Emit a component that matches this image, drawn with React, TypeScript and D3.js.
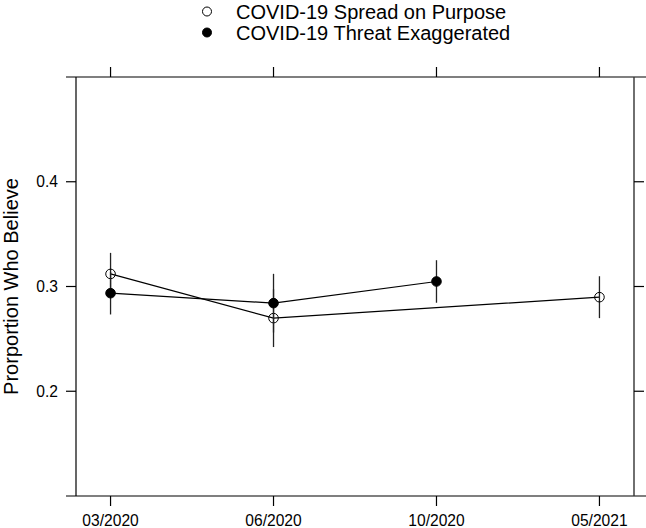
import React from "react";
import * as d3 from "d3";

const categories = ["03/2020", "06/2020", "10/2020", "05/2021"];
const yTicks = [0.2, 0.3, 0.4];

// COVID-19 Spread on Purpose (open circles)
const spreadCats = ["03/2020", "06/2020", "05/2021"];
const spreadVals = [0.312, 0.2698, 0.2898];
const spreadLo = [0.292, 0.2422, 0.2698];
const spreadHi = [0.3321, 0.2974, 0.3098];

// COVID-19 Threat Exaggerated (filled circles)
const threatCats = ["03/2020", "06/2020", "10/2020"];
const threatVals = [0.2936, 0.2841, 0.3048];
const threatLo = [0.2733, 0.2561, 0.2845];
const threatHi = [0.3139, 0.3121, 0.3251];

const legendLabels = ["COVID-19 Spread on Purpose", "COVID-19 Threat Exaggerated"];
const yLabel = "Prorportion Who Believe";

const W = 646, H = 528;
const L = 76, R = 634, T = 77, B = 496;
const FONT = "Liberation Sans, Arial, Helvetica, sans-serif";

export default function App() {
  const x = d3.scalePoint<string>().domain(categories).range([L, R]).padding(0.212);
  const y = d3.scaleLinear().domain([0.1, 0.5]).range([B, T]);
  const line = d3
    .line<[string, number]>()
    .x((d) => x(d[0]) as number)
    .y((d) => y(d[1]));

  const series = [
    { cats: spreadCats, vals: spreadVals, lo: spreadLo, hi: spreadHi, filled: false },
    { cats: threatCats, vals: threatVals, lo: threatLo, hi: threatHi, filled: true },
  ];

  const stroke = "#000";
  return (
    <div style={{ position: "absolute", left: 0, top: 0 }}>
      <svg width={W} height={H} style={{ display: "block", background: "#fff" }} fontFamily={FONT}>
        <rect width={W} height={H} fill="#fff" />
        {/* legend */}
        {legendLabels.map((lab, i) => (
          <g key={lab}>
            <circle
              cx={207}
              cy={11.5 + i * 21}
              r={4.5}
              fill={i === 1 ? "#000" : "none"}
              stroke="#000"
              strokeWidth={1}
            />
            <text x={236} y={18.5 + i * 21} fontSize={20} fill="#000">
              {lab}
            </text>
          </g>
        ))}
        {/* panel border */}
        <line x1={66} x2={W} y1={T} y2={T} stroke={stroke} strokeWidth={1.2} />
        <line x1={66} x2={W} y1={B} y2={B} stroke={stroke} strokeWidth={1.2} />
        <line x1={L} x2={L} y1={T} y2={B} stroke={stroke} strokeWidth={1.2} />
        <line x1={R} x2={R} y1={T} y2={B} stroke="#333" strokeWidth={1.4} />
        {/* x ticks */}
        {categories.map((c) => (
          <g key={c}>
            <line x1={x(c)} x2={x(c)} y1={T} y2={T - 10} stroke={stroke} strokeWidth={1.2} />
            <line x1={x(c)} x2={x(c)} y1={B} y2={B + 10} stroke={stroke} strokeWidth={1.2} />
            <text x={x(c)} y={526} textAnchor="middle" fontSize={15.6} fill="#000">
              {c}
            </text>
          </g>
        ))}
        {/* y ticks */}
        {yTicks.map((t) => (
          <g key={t}>
            <line x1={L} x2={L - 10} y1={y(t)} y2={y(t)} stroke={stroke} strokeWidth={1.2} />
            <line x1={R} x2={R + 10} y1={y(t)} y2={y(t)} stroke={stroke} strokeWidth={1.2} />
            <text x={58} y={y(t) + 5.6} textAnchor="end" fontSize={15.6} fill="#000">
              {d3.format(".1f")(t)}
            </text>
          </g>
        ))}
        <text
          transform={`translate(18,${(T + B) / 2}) rotate(-90)`}
          textAnchor="middle"
          fontSize={20}
          fill="#000"
        >
          {yLabel}
        </text>
        {/* series */}
        {series.map((s, si) => (
          <g key={si}>
            <path
              d={line(s.cats.map((c, i) => [c, s.vals[i]] as [string, number])) || ""}
              fill="none"
              stroke="#000"
              strokeWidth={1.2}
            />
            {s.cats.map((c, i) => (
              <line
                key={"e" + c}
                x1={x(c)}
                x2={x(c)}
                y1={y(s.lo[i])}
                y2={y(s.hi[i])}
                stroke="#222"
                strokeWidth={1.3}
              />
            ))}
            {s.cats.map((c, i) => (
              <circle
                key={"p" + c}
                cx={x(c)}
                cy={y(s.vals[i])}
                r={4.8}
                fill={s.filled ? "#000" : "none"}
                stroke="#000"
                strokeWidth={1}
              />
            ))}
          </g>
        ))}
      </svg>
    </div>
  );
}
